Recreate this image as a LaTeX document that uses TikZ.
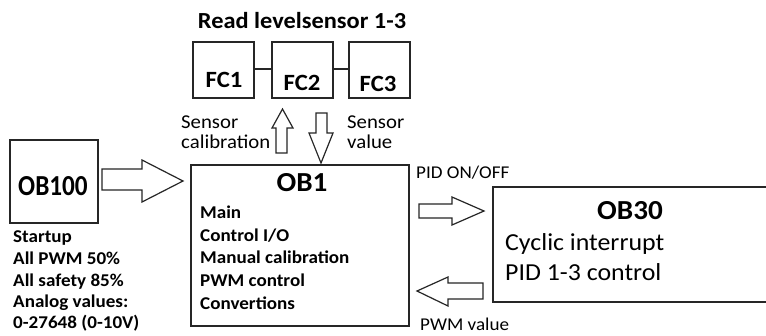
\documentclass[tikz,border=0pt]{standalone}
\usepackage{graphicx}
\usepackage{fontspec}
\setmainfont{Carlito}[FakeStretch=1.06]
\begin{document}
\begin{tikzpicture}[x=1pt,y=-1pt,
  box/.style={draw=black!85, line width=1.3pt},
  blockarrow/.style={draw=black!85, line width=1.2pt, line join=miter, fill=white},
  txt/.style={inner sep=0pt, text=black},
  obtitle/.style={txt, font=\bfseries\fontsize{27.5}{31}\selectfont},
  fctext/.style={txt, font=\bfseries\fontsize{23.3}{27}\selectfont},
  boldtxt/.style={txt, font=\bfseries\fontsize{18}{21}\selectfont},
  headtxt/.style={txt, font=\bfseries\fontsize{23}{27}\selectfont},
  smalltxt/.style={txt, font=\fontsize{18}{21}\selectfont},
  sensortxt/.style={txt, font=\fontsize{19.6}{23}\selectfont},
  medtxt/.style={txt, font=\fontsize{24.4}{28}\selectfont}
]
\useasboundingbox[fill=white] (0,0) rectangle (766,335);

% title
\node[headtxt, anchor=base] (title) at (302,28) {Read levelsensor 1-3};

% FC boxes
\draw[box] (193,42) rectangle (254,98);
\draw[box] (272,42) rectangle (333,98);
\draw[box] (349,42) rectangle (410,98);
\coordinate (fc1e) at (254,69);
\coordinate (fc2w) at (272,69);
\coordinate (fc2e) at (333,69);
\coordinate (fc3w) at (349,69);
\draw[box] (fc1e) -- (fc2w);
\draw[box] (fc2e) -- (fc3w);
\node[fctext, anchor=base] (fc1) at (224,87) {FC1};
\node[fctext, anchor=base] (fc2) at (302,90) {FC2};
\node[fctext, anchor=base] (fc3) at (378,91) {FC3};

% sensor labels
\node[sensortxt, anchor=base west] (sc1) at (181,128) {Sensor};
\node[sensortxt, anchor=base west] (sc2) at (181,148) {calibration};
\node[sensortxt, anchor=base west] (sv1) at (347,128) {Sensor};
\node[sensortxt, anchor=base west] (sv2) at (347,148) {value};

% up / down arrows
\draw[blockarrow] (276,153) -- (276,128) -- (272,128) -- (282.5,109) -- (293,128) -- (287,128) -- (287,153) -- cycle;
\draw[blockarrow] (316,113) -- (316,133) -- (309,133) -- (321,163) -- (333,133) -- (327,133) -- (327,113) -- cycle;

% OB100
\draw[box] (10,140) rectangle (98,223);
\node[obtitle, anchor=base, font=\bfseries\fontsize{29}{32}\selectfont] (ob100) at (53,195) {\scalebox{0.82}[1]{OB100}};
\node[boldtxt, anchor=base west] (s1) at (13,242) {Startup};
\node[boldtxt, anchor=base west] (s2) at (13,264) {All PWM 50\%};
\node[boldtxt, anchor=base west] (s3) at (13,286) {All safety 85\%};
\node[boldtxt, anchor=base west] (s4) at (13,307) {Analog values:};
\node[boldtxt, anchor=base west] (s5) at (13,328) {0-27648 (0-10V)};

% arrow OB100 -> OB1
\draw[blockarrow] (102,169) -- (142,169) -- (142,160) -- (183,181) -- (142,202) -- (142,190) -- (102,190) -- cycle;

% OB1
\draw[box] (191,165) rectangle (409,326);
\node[obtitle, anchor=base] (ob1) at (302,191) {OB1};
\node[boldtxt, anchor=base west] (m1) at (200,218) {Main};
\node[boldtxt, anchor=base west] (m2) at (200,241) {Control I/O};
\node[boldtxt, anchor=base west] (m3) at (200,263) {Manual calibration};
\node[boldtxt, anchor=base west] (m4) at (200,286) {PWM control};
\node[boldtxt, anchor=base west] (m5) at (200,309) {Convertions};

% arrows OB1 <-> OB30
\node[smalltxt, anchor=base west] (pid) at (416,178) {PID ON/OFF};
\draw[blockarrow] (419,204) -- (452,204) -- (452,197) -- (484,211) -- (452,225) -- (452,218) -- (419,218) -- cycle;
\draw[blockarrow] (483,283) -- (448,283) -- (448,277) -- (417,291) -- (448,306) -- (448,299) -- (483,299) -- cycle;
\node[smalltxt, anchor=base west] (pwm) at (420,330) {PWM value};

% OB30
\draw[box] (770,187) -- (493,187) -- (493,302) -- (770,302);
\node[obtitle, anchor=base] (ob30) at (630,219) {OB30};
\node[medtxt, anchor=base west] (c1) at (505,250) {Cyclic interrupt};
\node[medtxt, anchor=base west] (c2) at (505,280) {PID 1-3 control};
\end{tikzpicture}
\end{document}
